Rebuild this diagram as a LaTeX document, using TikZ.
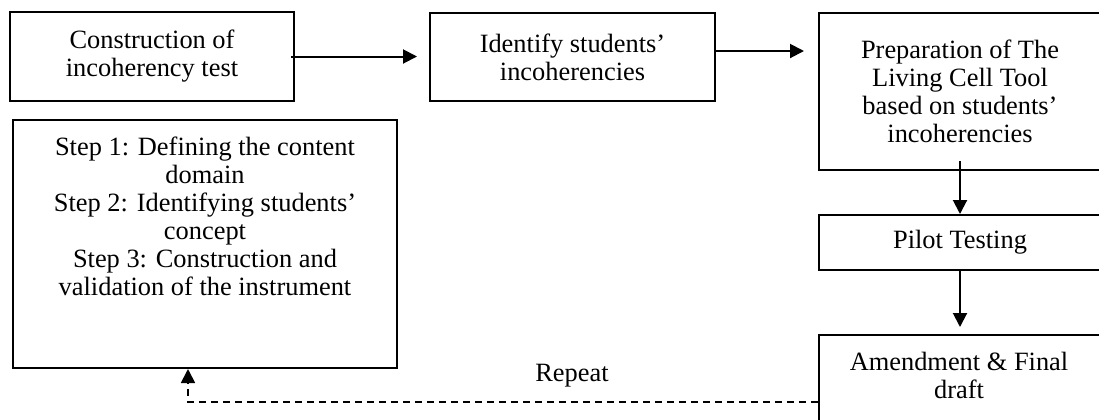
\documentclass[tikz,border=0pt]{standalone}
\usepackage{fontspec}
\setmainfont{Liberation Serif}
\usetikzlibrary{arrows.meta}

\begin{document}
\begin{tikzpicture}[x=0.5pt,y=-0.5pt,
        box/.style={draw,line width=1pt,align=center,inner sep=0pt,font=\fontsize{13.2}{14}\selectfont},
        txt/.style={align=center,inner sep=0pt,font=\fontsize{13.2}{14}\selectfont},
        link/.style={line width=1pt,-{Triangle[length=7pt,width=7pt]}},
        back/.style={line width=0.9pt,dash pattern=on 3.5pt off 2.5pt,-{Triangle[length=7pt,width=7pt]}}]
        \useasboundingbox (0,0) rectangle (1099,419);

        \node[box,minimum width=142pt,minimum height=44.5pt] (Construct) at (152,56.5) {Construction of\\incoherency test};
        \node[box,minimum width=142.5pt,minimum height=44pt] (Identify) at (572.5,57) {Identify students'\\incoherencies};
        \node[box,minimum width=141pt,minimum height=78.5pt] (Prepare) at (960,91.5) {Preparation of The\\Living Cell Tool\\based on students'\\incoherencies};
        \node[box,minimum width=141pt,minimum height=27.5pt] (Pilot) at (960,242.5) {Pilot Testing};
        \node[box,minimum width=141pt,minimum height=55pt] (Amend) at (960,390) {};
        \node[txt,anchor=north] (Amendtext) at (959,352) {Amendment \& Final\\draft};
        \node[box,minimum width=192pt,minimum height=124pt] (Steps) at (205,244) {};
        \node[txt,anchor=north] (Stepstext) at (205,137) {Step 1: Defining the content\\domain\\Step 2: Identifying students'\\concept\\Step 3: Construction and\\validation of the instrument};
        \node[txt] (Repeat) at (572,376) {Repeat};

        \coordinate (Turn) at (188,402);

        \draw[link,shorten >=6pt] ([xshift=-2pt]Construct.east) -- (Construct.east -| Identify.west);
        \draw[link,shorten >=7pt] ([yshift=3pt]Identify.east) -- ([yshift=3pt]Identify.east -| Prepare.west);
        \draw[link] ([yshift=5pt]Prepare.south) -- (Pilot.north);
        \draw[link,shorten >=3.5pt] (Pilot.south) -- (Amend.north);
        \draw[back] (Amend.west |- Turn) -- (Turn) -- (Steps.south -| Turn);
      \end{tikzpicture}
\end{document}
